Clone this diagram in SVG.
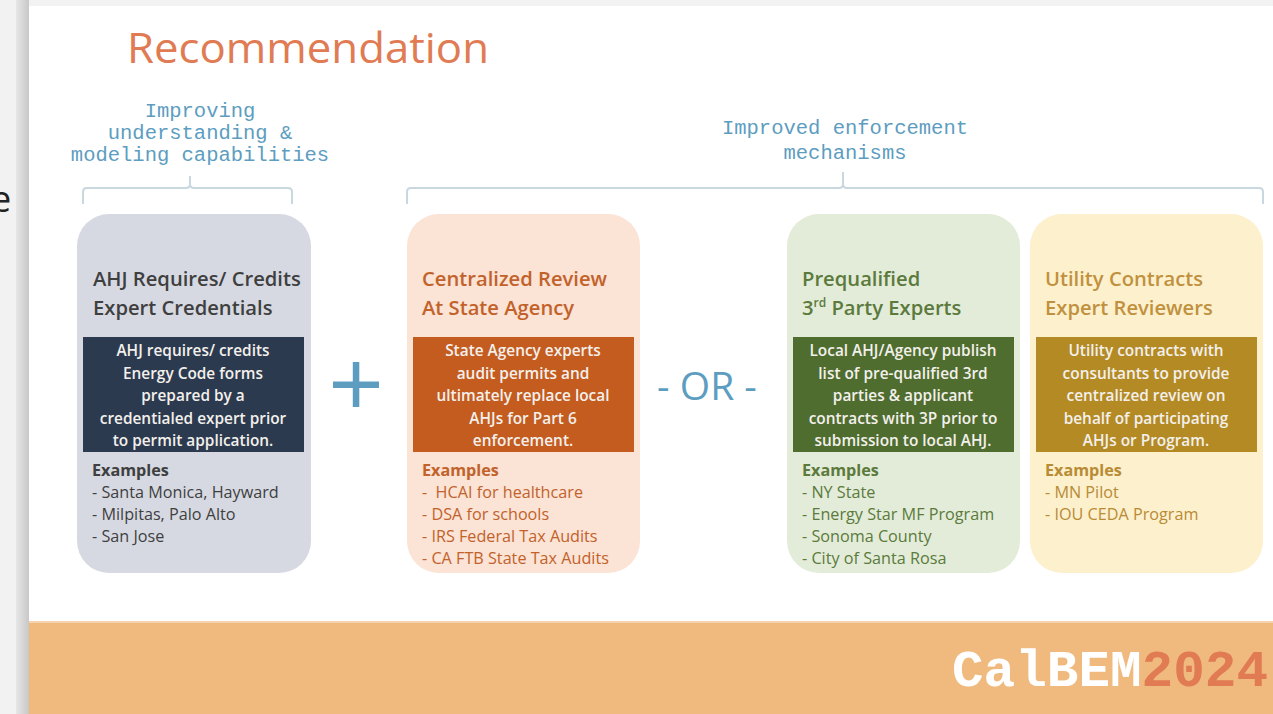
<svg xmlns="http://www.w3.org/2000/svg" width="1273" height="714" viewBox="0 0 1273 714">
<defs>
<linearGradient id="edge" x1="0" x2="1" y1="0" y2="0">
<stop offset="0" stop-color="#e6e6e6"/>
<stop offset="0.6" stop-color="#d4d4d4"/>
<stop offset="1" stop-color="#c8c8c8"/>
</linearGradient>
</defs>
<style>
.hdr{font-family:"Liberation Mono","DejaVu Sans Mono",monospace;font-size:20.5px;fill:#5d9dc0;text-anchor:middle}
.brace{fill:none;stroke:#c9d7df;stroke-width:2}
.ttl{font-family:"Open Sans","Liberation Sans",sans-serif;font-size:20.2px;font-weight:600}
.box{font-family:"Open Sans","Liberation Sans",sans-serif;font-size:15.4px;font-weight:600;fill:#f3f0ec;text-anchor:middle}
.ex{font-family:"Open Sans","Liberation Sans",sans-serif;font-size:16.2px;font-weight:500}
.exh{font-weight:700}
.sym{fill:#5d9dc0}
</style>
<rect x="0" y="0" width="1273" height="714" fill="#f2f2f2"/>
<rect x="16" y="0" width="13" height="714" fill="url(#edge)"/>
<rect x="29" y="6" width="1244" height="708" fill="#ffffff"/>
<text x="-9" y="212" font-family="Open Sans, Liberation Sans, sans-serif" font-size="36" fill="#222">e</text>

<text x="127" y="63" font-family="Open Sans, Liberation Sans, sans-serif" font-size="42" fill="#e07b53" textLength="362" lengthAdjust="spacingAndGlyphs">Recommendation</text>

<g id="header-left">
<text class="hdr" x="200" y="117">Improving</text>
<text class="hdr" x="200" y="139">understanding &amp;</text>
<text class="hdr" x="200" y="161">modeling capabilities</text>
</g>
<g id="header-right">
<text class="hdr" x="845" y="134">Improved enforcement</text>
<text class="hdr" x="845" y="159">mechanisms</text>
</g>

<g id="connectors">
<path class="brace" d="M83 204 V192 Q83 188 87 188 H186 Q190 188 190 184 V176 M190 184 Q190 188 194 188 H288 Q292 188 292 192 V204"/>
<path class="brace" d="M407 204 V192 Q407 188 411 188 H839 Q843 188 843 184 V172 M843 184 Q843 188 847 188 H1259 Q1263 188 1263 192 V204"/>
</g>

<g id="card-ahj">
<rect x="77" y="214" width="234" height="359" rx="32" fill="#d6d9e2"/>
<text class="ttl" fill="#3f3f3f"><tspan x="93" y="286">AHJ Requires/ Credits</tspan><tspan x="93" y="315">Expert Credentials</tspan></text>
<rect x="83" y="337" width="221" height="115" fill="#2c3a4f"/>
<text class="box"><tspan x="193" y="356">AHJ requires/ credits</tspan><tspan x="193" y="379">Energy Code forms</tspan><tspan x="193" y="401">prepared by a</tspan><tspan x="193" y="424">credentialed expert prior</tspan><tspan x="193" y="446">to permit application.</tspan></text>
<text class="ex" fill="#3f3f3f"><tspan class="exh" x="92" y="476">Examples</tspan><tspan x="92" y="498">- Santa Monica, Hayward</tspan><tspan x="92" y="520">- Milpitas, Palo Alto</tspan><tspan x="92" y="542">- San Jose</tspan></text>
</g>

<g id="plus">
<rect class="sym" x="333" y="381.5" width="46" height="6.5"/>
<rect class="sym" x="352.8" y="362" width="6.5" height="45"/>
</g>

<g id="card-state">
<rect x="407" y="214" width="233" height="359" rx="32" fill="#fbe3d5"/>
<text class="ttl" fill="#c2622b"><tspan x="422" y="286">Centralized Review</tspan><tspan x="422" y="315">At State Agency</tspan></text>
<rect x="413" y="337" width="221" height="115" fill="#c45b1f"/>
<text class="box"><tspan x="523" y="356">State Agency experts</tspan><tspan x="523" y="379">audit permits and</tspan><tspan x="523" y="401">ultimately replace local</tspan><tspan x="523" y="424">AHJs for Part 6</tspan><tspan x="523" y="446">enforcement.</tspan></text>
<text class="ex" fill="#c2622b" xml:space="preserve"><tspan class="exh" x="422" y="476">Examples</tspan><tspan x="422" y="498">-  HCAI for healthcare</tspan><tspan x="422" y="520">- DSA for schools</tspan><tspan x="422" y="542">- IRS Federal Tax Audits</tspan><tspan x="422" y="564">- CA FTB State Tax Audits</tspan></text>
</g>

<g id="or">
<text x="707" y="400" font-family="Open Sans, Liberation Sans, sans-serif" font-size="39" fill="#5d9dc0" text-anchor="middle">- OR -</text>
</g>

<g id="card-3p">
<rect x="787" y="214" width="233" height="359" rx="32" fill="#e3ecd9"/>
<text class="ttl" fill="#5b7a3c"><tspan x="802" y="286">Prequalified</tspan><tspan x="802" y="315">3<tspan font-size="12" dy="-8">rd</tspan><tspan dy="8"> Party Experts</tspan></tspan></text>
<rect x="793" y="337" width="221" height="115" fill="#4f6d2e"/>
<text class="box"><tspan x="903" y="356">Local AHJ/Agency publish</tspan><tspan x="903" y="379">list of pre-qualified 3rd</tspan><tspan x="903" y="401">parties &amp; applicant</tspan><tspan x="903" y="424">contracts with 3P prior to</tspan><tspan x="903" y="446">submission to local AHJ.</tspan></text>
<text class="ex" fill="#5b7a3c"><tspan class="exh" x="802" y="476">Examples</tspan><tspan x="802" y="498">- NY State</tspan><tspan x="802" y="520">- Energy Star MF Program</tspan><tspan x="802" y="542">- Sonoma County</tspan><tspan x="802" y="564">- City of Santa Rosa</tspan></text>
</g>

<g id="card-utility">
<rect x="1030" y="214" width="233" height="359" rx="32" fill="#fdf0cd"/>
<text class="ttl" fill="#c0913f"><tspan x="1045" y="286">Utility Contracts</tspan><tspan x="1045" y="315">Expert Reviewers</tspan></text>
<rect x="1036" y="337" width="221" height="115" fill="#b48a24"/>
<text class="box"><tspan x="1146" y="356">Utility contracts with</tspan><tspan x="1146" y="379">consultants to provide</tspan><tspan x="1146" y="401">centralized review on</tspan><tspan x="1146" y="424">behalf of participating</tspan><tspan x="1146" y="446">AHJs or Program.</tspan></text>
<text class="ex" fill="#b88b35"><tspan class="exh" x="1045" y="476">Examples</tspan><tspan x="1045" y="498">- MN Pilot</tspan><tspan x="1045" y="520">- IOU CEDA Program</tspan></text>
</g>

<g id="footer">
<rect x="29" y="622" width="1244" height="92" fill="#f0b97e"/>
<rect x="29" y="621" width="1244" height="2" fill="#f6d3b0"/>
<text x="952" y="686" font-family="Liberation Mono, DejaVu Sans Mono, monospace" font-size="52" font-weight="700" textLength="316" lengthAdjust="spacingAndGlyphs"><tspan fill="#ffffff">CalBEM</tspan><tspan fill="#e07b53">2024</tspan></text>
</g>
</svg>
